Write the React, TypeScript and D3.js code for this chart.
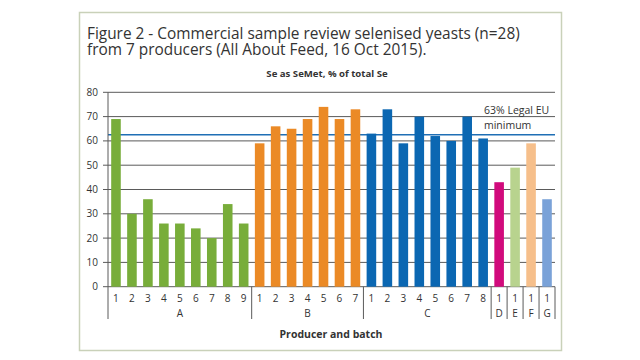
import React from "react";
import * as d3 from "d3";

const producers = ["A", "B", "C", "D", "E", "F", "G"];
const batchCounts = [9, 7, 8, 1, 1, 1, 1];
const valuesA = [69, 30, 36, 26, 26, 24, 20, 34, 26];
const valuesB = [59, 66, 65, 69, 74, 69, 73];
const valuesC = [63, 73, 59, 70, 62, 60, 70, 61];
const valuesD = [43];
const valuesE = [49];
const valuesF = [59];
const valuesG = [36];
const producerColors = ["#78ad3a", "#eb8a26", "#0b67b2", "#d10a7c", "#b8d38e", "#f6bf8b", "#7aa2d8"];
const yTicks = [0, 10, 20, 30, 40, 50, 60, 70, 80];
const legalMin = 62.5;

const titleLines = [
  "Figure 2 - Commercial sample review selenised yeasts (n=28)",
  "from 7 producers (All About Feed, 16 Oct 2015).",
];

export default function App() {
  const W = 640, H = 360;
  const left = 108, right = 555, top = 92.3, bottom = 286.7;
  const allValues = [valuesA, valuesB, valuesC, valuesD, valuesE, valuesF, valuesG];
  const bars: { key: string; batch: number; producer: number; v: number }[] = [];
  allValues.forEach((arr, pi) =>
    arr.forEach((v, bi) => bars.push({ key: `${producers[pi]}${bi + 1}`, batch: bi + 1, producer: pi, v }))
  );
  const x = d3.scaleBand<string>().domain(bars.map((b) => b.key)).range([left, right]).paddingInner(0.4).paddingOuter(0.2);
  const y = d3.scaleLinear().domain([0, 80]).range([bottom, top]);
  const step = x.step();
  const groupStart = (pi: number) => {
    let idx = 0;
    for (let i = 0; i < pi; i++) idx += batchCounts[i];
    return left + idx * step;
  };
  const font = "'Open Sans', 'Noto Sans', sans-serif";
  const textCol = "#333";
  const gridCol = "#5a5a5a";
  const sepBottom = 319;

  return (
    <svg width={W} height={H} style={{ position: "absolute", left: 0, top: 0 }} fontFamily={font}>
      <rect x={0} y={0} width={W} height={H} fill="#fff" />
      <rect x={79.5} y={12.5} width={482} height={338} fill="#fff" stroke="#c9d1b9" strokeWidth={1.5} />
      <text x={87} y={38.5} fontSize={15.4} fill={textCol}>
        {titleLines.map((t, i) => (
          <tspan key={i} x={87} dy={i === 0 ? 0 : 16.8}>{t}</tspan>
        ))}
      </text>
      <text x={327} y={77} fontSize={9.6} fontWeight="bold" textAnchor="middle" fill={textCol}>Se as SeMet, % of total Se</text>
      {yTicks.map((t) => (
        <g key={t}>
          <line x1={left} x2={right} y1={y(t)} y2={y(t)} stroke={gridCol} strokeWidth={1} />
          <line x1={103} x2={left} y1={y(t)} y2={y(t)} stroke={gridCol} strokeWidth={1} />
          <text x={98} y={y(t) + 3.5} fontSize={10} textAnchor="end" fill={textCol}>{t}</text>
        </g>
      ))}
      <line x1={left} x2={right} y1={y(legalMin)} y2={y(legalMin)} stroke="#1f6fb5" strokeWidth={1.5} />
      <text x={484} y={114} fontSize={10.5} fill={textCol}>63% Legal EU</text>
      <text x={484} y={128.5} fontSize={10.5} fill={textCol}>minimum</text>
      {bars.map((b) => (
        <rect key={b.key} x={x(b.key)} y={y(b.v)} width={x.bandwidth()} height={bottom - y(b.v)} fill={producerColors[b.producer]} />
      ))}
      <line x1={left} x2={left} y1={top} y2={bottom} stroke={gridCol} strokeWidth={1} />
      {bars.map((b) => (
        <text key={"l" + b.key} x={(x(b.key) as number) + x.bandwidth() / 2} y={302} fontSize={10} textAnchor="middle" fill={textCol}>{b.batch}</text>
      ))}
      {producers.map((p, pi) => {
        const s = groupStart(pi);
        const e = s + batchCounts[pi] * step;
        return (
          <g key={p}>
            <line x1={s} x2={s} y1={bottom} y2={sepBottom} stroke={gridCol} strokeWidth={1} />
            {pi === producers.length - 1 && <line x1={e} x2={e} y1={bottom} y2={sepBottom} stroke={gridCol} strokeWidth={1} />}
            <text x={(s + e) / 2} y={317} fontSize={10} textAnchor="middle" fill={textCol}>{p}</text>
          </g>
        );
      })}
      <text x={331} y={338} fontSize={10.5} fontWeight="bold" textAnchor="middle" fill={textCol}>Producer and batch</text>
    </svg>
  );
}
